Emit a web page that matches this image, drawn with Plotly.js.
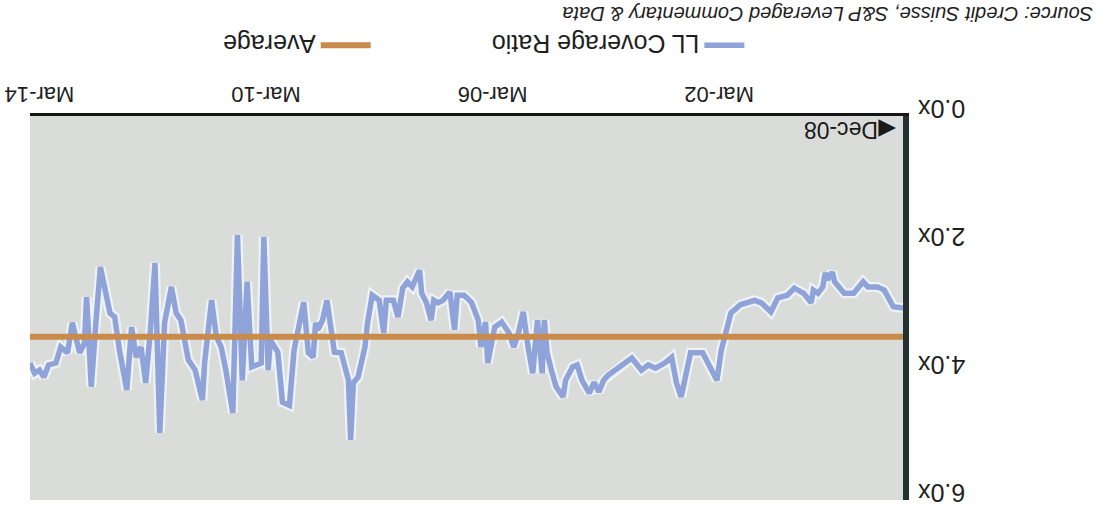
<!DOCTYPE html>
<html>
<head>
<meta charset="utf-8">
<script src="https://cdn.plot.ly/plotly-3.0.1.min.js"></script>
<style>
  html, body { margin: 0; padding: 0; background: #ffffff; }
  #wrap { width: 1108px; height: 508px; transform: rotate(180deg); transform-origin: 50% 50%; }
  #chart { width: 1108px; height: 508px; }
</style>
</head>
<body>
<div id="wrap"><div id="chart"></div></div>
<script>
// ---- data (dates, coverage ratio in x) ----
const dates = [
  '1998-12-01','1999-02-01','1999-04-01','1999-05-15','1999-07-15','1999-08-15','1999-10-15','1999-12-15',
  '2000-02-15','2000-03-01','2000-04-01','2000-04-15','2000-05-01','2000-06-01','2000-07-01','2000-07-15',
  '2000-09-01','2000-11-01','2000-12-15','2001-02-15','2001-04-01','2001-06-01','2001-07-15','2001-09-01',
  '2001-10-15','2001-12-15','2002-01-15','2002-02-15','2002-03-15','2002-05-01','2002-06-15','2002-09-01',
  '2002-11-01','2002-12-01','2003-01-01','2003-02-15','2003-04-15','2003-06-01','2003-07-15','2003-09-15',
  '2003-11-15','2004-01-01','2004-02-15','2004-03-15','2004-04-15','2004-05-15','2004-06-15','2004-08-01',
  '2004-09-01','2004-10-01','2004-11-15','2004-12-01','2005-01-15','2005-02-15','2005-03-15','2005-04-01',
  '2005-04-15','2005-05-15','2005-06-15','2005-07-15','2005-08-15','2005-09-15','2005-10-15','2005-11-15',
  '2006-01-01','2006-02-15','2006-04-01','2006-04-15','2006-05-15','2006-06-01','2006-07-15','2006-09-01',
  '2006-10-15','2006-11-01','2006-12-01','2007-01-15','2007-02-15','2007-03-15','2007-04-01','2007-05-01',
  '2007-06-01','2007-06-15','2007-08-01','2007-09-01','2007-10-01','2007-11-01','2007-12-01','2008-01-15',
  '2008-02-01','2008-03-01','2008-04-15','2008-05-15','2008-06-01','2008-07-15','2008-08-15','2008-09-01',
  '2008-09-15','2008-11-01','2008-12-15','2009-02-01','2009-03-01','2009-04-01','2009-04-15','2009-05-01',
  '2009-06-01','2009-07-01','2009-08-01','2009-09-01','2009-10-01','2009-11-15','2009-12-15','2010-02-01',
  '2010-02-15','2010-03-15','2010-04-01','2010-06-01','2010-07-01','2010-08-01','2010-09-01','2010-10-01',
  '2010-11-15','2010-12-15','2011-01-15','2011-02-15','2011-04-01','2011-04-15','2011-06-01','2011-07-15',
  '2011-09-01','2011-10-01','2011-11-01','2011-12-15','2012-01-15','2012-02-15','2012-03-15','2012-04-15',
  '2012-05-15','2012-06-15','2012-07-15','2012-08-15','2012-10-01','2012-11-01','2012-12-01','2013-02-01',
  '2013-03-01','2013-04-01','2013-05-01','2013-05-15','2013-06-15','2013-08-01','2013-09-01','2013-10-15',
  '2013-11-15','2014-01-01','2014-02-01','2014-03-01','2014-04-01','2014-05-01'
];
const coverage = [
  3.00,2.98,2.72,2.67,2.67,2.59,2.77,2.77,
  2.59,2.44,2.56,2.45,2.67,2.77,2.72,2.92,
  2.77,2.69,2.80,2.84,3.06,2.92,2.88,2.91,
  2.95,3.08,3.34,3.66,4.13,3.92,3.70,3.70,
  4.39,4.17,3.77,3.86,3.94,3.89,3.97,3.78,
  3.89,3.97,4.05,4.13,4.31,4.16,4.33,4.13,
  3.89,3.92,4.13,4.39,4.23,3.97,3.69,3.19,
  4.02,3.19,4.02,3.61,3.06,3.39,3.61,3.39,
  3.22,3.30,3.86,3.22,3.61,3.19,2.91,2.80,
  2.80,3.34,2.75,2.88,2.92,2.88,3.19,2.92,
  2.77,2.41,2.67,2.59,2.69,3.14,2.88,2.88,
  3.39,2.88,2.80,3.23,3.61,4.08,4.17,5.06,
  4.13,3.70,3.69,2.88,3.19,3.34,3.23,3.77,
  3.70,2.91,3.34,3.66,4.52,4.47,3.69,3.50,
  3.97,1.89,3.86,3.92,2.59,4.13,1.86,4.64,
  3.97,3.61,3.45,2.88,3.86,4.44,3.97,3.81,
  3.19,3.08,2.67,3.23,4.95,2.30,3.34,4.17,
  3.61,3.77,3.30,4.28,3.66,3.14,3.08,2.36,
  3.19,4.23,2.83,3.55,3.70,3.23,3.70,3.61,
  3.86,3.89,4.08,3.97,4.02,3.86
];
const averageValue = 3.45;
const xTickDates = ['2002-03-01','2006-03-01','2010-03-01','2014-03-01'];
const xTickLabels = ['Mar-02','Mar-06','Mar-10','Mar-14'];
const yTickValues = [0, 2, 4, 6];
const yTickLabels = ['0.0x','2.0x','4.0x','6.0x'];
const seriesNames = ['LL Coverage Ratio','Average'];
const sourceText = 'Source: Credit Suisse, S&P Leveraged Commentary & Data';
const startLabel = 'Dec-08';

const FONT = 'Liberation Sans, Arial, Helvetica, sans-serif';
const firstDate = dates[0], lastDate = dates[dates.length - 1];

const traces = [
  { // light halo under the ratio line
    x: dates, y: coverage, type: 'scatter', mode: 'lines',
    line: { color: 'rgba(238,242,247,0.95)', width: 10 },
    showlegend: false, hoverinfo: 'skip'
  },
  {
    x: dates, y: coverage, type: 'scatter', mode: 'lines', name: seriesNames[0],
    line: { color: '#8fa3d9', width: 5.5 }, legend: 'legend'
  },
  {
    x: [firstDate, lastDate], y: [averageValue, averageValue], type: 'scatter', mode: 'lines',
    name: seriesNames[1], line: { color: '#c98b4b', width: 6 }, legend: 'legend2'
  }
];

const legendFont = { family: FONT, size: 25, color: '#1e1e1e' };

const layout = {
  width: 1108, height: 508,
  margin: { l: 205, r: 30, t: 8, b: 116, pad: 0 },
  paper_bgcolor: '#ffffff',
  plot_bgcolor: '#dadcda',
  font: { family: FONT, size: 21, color: '#1e1e1e' },
  showlegend: true,
  legend: {
    orientation: 'h', x: 0.176, xanchor: 'left', y: -0.185, yanchor: 'middle',
    font: legendFont, itemwidth: 40, bgcolor: 'rgba(0,0,0,0)'
  },
  legend2: {
    orientation: 'h', x: 0.604, xanchor: 'left', y: -0.185, yanchor: 'middle',
    font: legendFont, itemwidth: 50, bgcolor: 'rgba(0,0,0,0)'
  },
  xaxis: {
    type: 'date', range: [firstDate, lastDate],
    tickmode: 'array', tickvals: xTickDates, ticktext: xTickLabels,
    showgrid: false, zeroline: false, ticks: '',
    showline: true, linecolor: '#151515', linewidth: 3,
    tickfont: { family: FONT, size: 22, color: '#1e1e1e' },
    fixedrange: true
  },
  yaxis: {
    range: [0, 6], tickmode: 'array', tickvals: yTickValues, ticktext: yTickLabels,
    showgrid: false, zeroline: false, ticks: '',
    showline: true, linecolor: '#263232', linewidth: 6,
    ticklabelshift: 7, ticklabelstandoff: 4,
    tickfont: { family: FONT, size: 25, color: '#1e1e1e' },
    fixedrange: true
  },
  annotations: [
    {
      xref: 'paper', yref: 'paper', x: -0.22, y: -0.266, xanchor: 'left', yanchor: 'middle',
      text: '<i>' + sourceText + '</i>', showarrow: false,
      font: { family: FONT, size: 20, color: '#1e1e1e' }
    },
    {
      xref: 'x', yref: 'y', x: firstDate, y: 0.22, xanchor: 'left', yanchor: 'middle',
      text: '\u25C0' + startLabel, showarrow: false, xshift: 5,
      font: { family: FONT, size: 23, color: '#1a1a1a' }
    }
  ]
};

Plotly.newPlot('chart', traces, layout, { displayModeBar: false, staticPlot: true });
</script>
</body>
</html>
